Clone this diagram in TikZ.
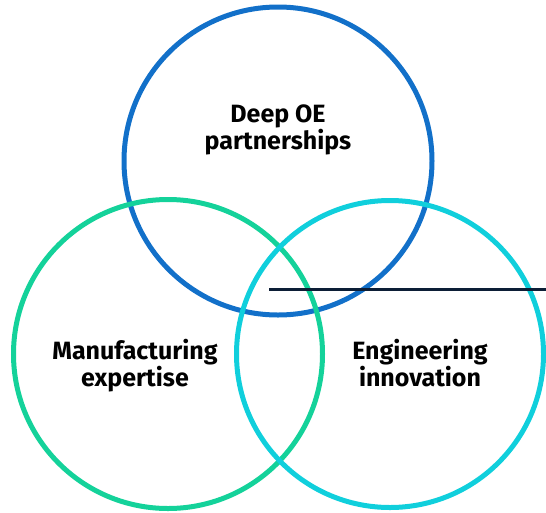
\documentclass[tikz,border=0pt]{standalone}
\usepackage{fontspec}
\setmainfont{Fira Sans}[UprightFont={* SemiBold},BoldFont={* Bold}]
\definecolor{cblue}{HTML}{1270C9}
\definecolor{cgreen}{HTML}{14D29A}
\definecolor{ccyan}{HTML}{10CFDC}
\definecolor{cnavy}{HTML}{0C1E36}
\begin{document}
\begin{tikzpicture}[x=1pt,y=-1pt,
  ring/.style={line width=5pt},
  lbl/.style={align=center,font=\fontsize{25}{27}\selectfont\bfseries,text=black,inner sep=0pt}]
\useasboundingbox (0,0) rectangle (546,512);
\draw[ring,cblue] (278,161) circle (154);
\draw[ring,cgreen] (168,354) circle (154.5);
\draw[ring,ccyan] (390,354) circle (153.5);
\coordinate (ls) at (269,289.5);
\coordinate (le) at (546,289.5);
\draw[cnavy,line width=2.3pt] (ls) -- (le);
\node[lbl] (top) at (278,130) {Deep OE\\partnerships};
\node[lbl] (left) at (135,366) {Manufacturing\\expertise};
\node[lbl] (right) at (420,363.5) {Engineering\\innovation};
\end{tikzpicture}
\end{document}
